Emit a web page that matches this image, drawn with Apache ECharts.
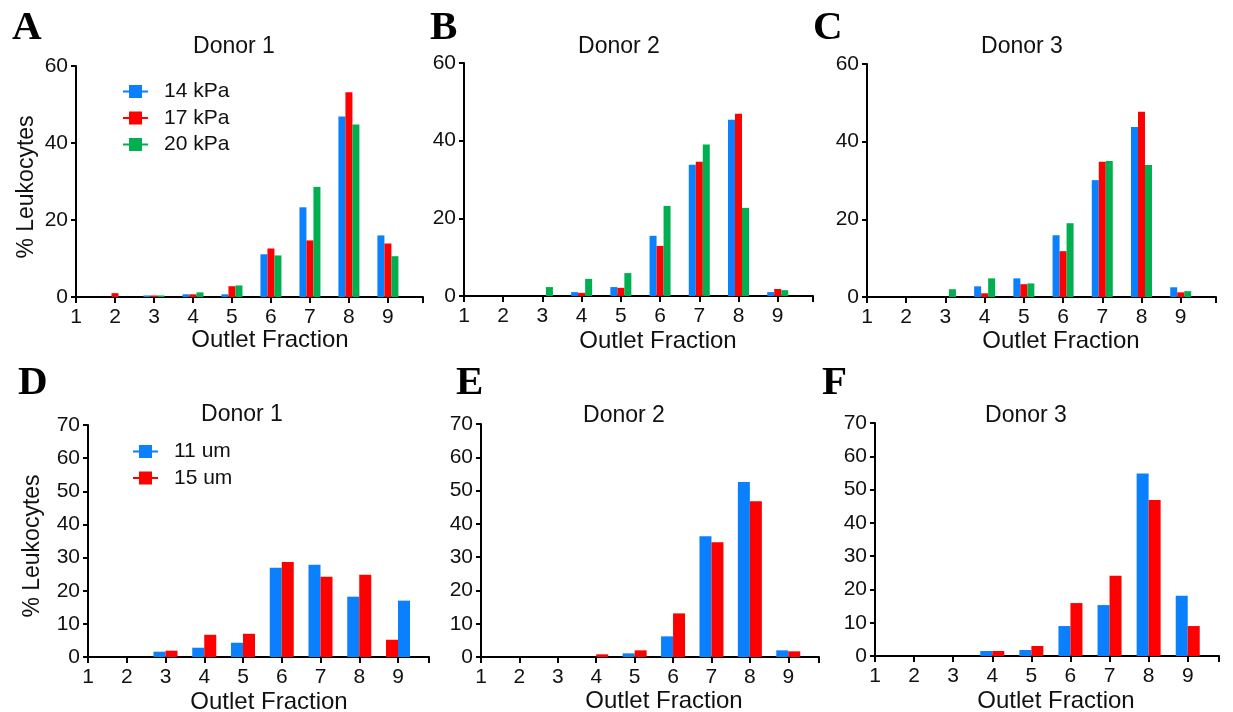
<!DOCTYPE html>
<html>
<head>
<meta charset="utf-8">
<script src="https://cdn.jsdelivr.net/npm/echarts@6/dist/echarts.min.js"></script>
<style>
  html, body { margin: 0; padding: 0; background: #fff; }
  #chart { width: 1233px; height: 712px; }
</style>
</head>
<body>
<div id="chart"></div>
<script>
// outlet fractions (x axis)
var fractions = [1, 2, 3, 4, 5, 6, 7, 8, 9];
var kpaNames = ['14 kPa', '17 kPa', '20 kPa'];
var umNames = ['11 um', '15 um'];
var yTicksTop = [0, 20, 40, 60];
var yTicksBottom = [0, 10, 20, 30, 40, 50, 60, 70];

// % leukocytes
var d1Kpa14 = [0, 0, 0.4, 0.7, 0.7, 11.1, 23.3, 46.9, 16.0];
var d1Kpa17 = [0, 1.0, 0.4, 0.7, 2.8, 12.6, 14.7, 53.2, 13.9];
var d1Kpa20 = [0, 0, 0.4, 1.2, 3.0, 10.8, 28.6, 44.8, 10.6];

var d2Kpa14 = [0, 0, 0, 1.0, 2.3, 15.5, 33.8, 45.4, 1.0];
var d2Kpa17 = [0, 0, 0, 0.8, 2.1, 12.9, 34.6, 46.9, 1.8];
var d2Kpa20 = [0, 0, 2.3, 4.4, 5.9, 23.2, 39.0, 22.7, 1.5];

var d3Kpa14 = [0, 0, 0, 2.75, 4.8, 15.9, 30.1, 43.8, 2.5];
var d3Kpa17 = [0, 0, 0, 0.95, 3.3, 11.8, 34.8, 47.7, 1.2];
var d3Kpa20 = [0, 0, 2.0, 4.8, 3.5, 19.0, 35.0, 34.0, 1.5];

var d1Um11 = [0, 0, 1.6, 2.8, 4.3, 26.9, 27.8, 18.2, 17.0];
var d1Um15 = [0, 0, 1.9, 6.7, 7.0, 28.7, 24.2, 24.8, 5.2];

var d2Um11 = [0, 0, 0, 0, 1.1, 6.2, 36.3, 52.6, 2.0];
var d2Um15 = [0, 0, 0, 0.8, 2.0, 13.1, 34.5, 46.8, 1.7];

var d3Um11 = [0, 0, 0, 1.5, 1.8, 9.0, 15.3, 54.8, 18.1];
var d3Um15 = [0, 0, 0, 1.5, 3.0, 15.9, 24.1, 46.9, 9.0];

var colors = ['#0A80FF', '#FF0000', '#00AF50'];
var font = '"Liberation Sans", Arial, sans-serif';
var txt = '#111';

var panels = [
  {letter: 'A', lx: 12, ly: 30, title: 'Donor 1', tx: 234, ty: 47,
   grid: {left: 76, top: 66, width: 347, height: 231}, xMax: 9.9, yTicks: yTicksTop,
   names: kpaNames, values: [d1Kpa14, d1Kpa17, d1Kpa20], barWidth: 7,
   xnx: 270, xny: 340, ynx: 27, yny: 187},
  {letter: 'B', lx: 430, ly: 30, title: 'Donor 2', tx: 619, ty: 47,
   grid: {left: 464, top: 63, width: 349, height: 233}, xMax: 9.9, yTicks: yTicksTop,
   names: kpaNames, values: [d2Kpa14, d2Kpa17, d2Kpa20], barWidth: 7,
   xnx: 658, xny: 341},
  {letter: 'C', lx: 813, ly: 30, title: 'Donor 3', tx: 1022, ty: 47,
   grid: {left: 867, top: 64, width: 349, height: 233}, xMax: 9.9, yTicks: yTicksTop,
   names: kpaNames, values: [d3Kpa14, d3Kpa17, d3Kpa20], barWidth: 7,
   xnx: 1061, xny: 341},
  {letter: 'D', lx: 18, ly: 385, title: 'Donor 1', tx: 242, ty: 415,
   grid: {left: 88, top: 425, width: 341, height: 232}, xMax: 9.8, yTicks: yTicksBottom,
   names: umNames, values: [d1Um11, d1Um15], barWidth: 12, swapLast: true,
   xnx: 269, xny: 702, ynx: 33, yny: 546},
  {letter: 'E', lx: 456, ly: 385, title: 'Donor 2', tx: 624, ty: 416,
   grid: {left: 481, top: 424, width: 338, height: 233}, xMax: 9.8, yTicks: yTicksBottom,
   names: umNames, values: [d2Um11, d2Um15], barWidth: 12,
   xnx: 664, xny: 701},
  {letter: 'F', lx: 822, ly: 385, title: 'Donor 3', tx: 1026, ty: 416,
   grid: {left: 875, top: 423, width: 344, height: 233}, xMax: 9.8, yTicks: yTicksBottom,
   names: umNames, values: [d3Um11, d3Um15], barWidth: 12,
   xnx: 1056, xny: 701}
];

function makeXAxis(gi, max, hidden) {
  return {
    type: 'value', gridIndex: gi, min: 1, max: max, interval: 1, show: !hidden,
    axisLine: {show: true, onZero: false, lineStyle: {color: '#000', width: 2}},
    axisTick: {show: true, length: 6, lineStyle: {color: '#000', width: 2}},
    axisLabel: {fontSize: 21, fontFamily: font, color: txt, margin: 10,
      showMinLabel: true, showMaxLabel: true,
      formatter: function (v) { return Number.isInteger(v) ? String(v) : ''; }},
    splitLine: {show: false}
  };
}

var grids = [], xAxes = [], yAxes = [], series = [], graphic = [];
var extraX = [];

panels.forEach(function (p, gi) {
  grids.push({left: p.grid.left, top: p.grid.top, width: p.grid.width, height: p.grid.height,
    containLabel: false, outerBoundsMode: 'none'});
  xAxes.push(makeXAxis(gi, p.xMax, false));
  var yt = p.yTicks;
  yAxes.push({
    type: 'value', gridIndex: gi, min: yt[0], max: yt[yt.length - 1], interval: yt[1] - yt[0],
    axisLine: {show: true, lineStyle: {color: '#000', width: 2}},
    axisTick: {show: true, length: 5, lineStyle: {color: '#000', width: 2}},
    axisLabel: {fontSize: 21, fontFamily: font, color: txt, margin: 8},
    splitLine: {show: false}
  });

  var last = fractions.length - 1;
  p.values.forEach(function (vals, si) {
    var pts = [];
    fractions.forEach(function (f, i) {
      if (p.swapLast && i === last) return;
      pts.push([f, vals[i]]);
    });
    series.push({
      type: 'bar', name: p.names[si], xAxisIndex: gi, yAxisIndex: gi,
      barWidth: p.barWidth, barGap: '0%', data: pts,
      itemStyle: {color: colors[si]}, emphasis: {disabled: true}
    });
  });
  if (p.swapLast) {
    // last group drawn in reversed order on an overlaid hidden axis
    extraX.push({gi: gi, p: p, last: last});
  }

  graphic.push({type: 'text', left: p.lx, top: p.ly - 22,
    style: {text: p.letter, font: 'bold 41px "Liberation Serif", "Times New Roman", serif', fill: '#000'}});
  graphic.push({type: 'text', x: p.tx, y: p.ty,
    style: {text: p.title, font: '23px ' + font, fill: txt, align: 'center', verticalAlign: 'middle'}});
  graphic.push({type: 'text', x: p.xnx, y: p.xny,
    style: {text: 'Outlet Fraction', font: '24px ' + font, fill: txt, align: 'center', verticalAlign: 'middle'}});
  if (p.ynx) {
    graphic.push({type: 'text', x: p.ynx, y: p.yny, rotation: Math.PI / 2,
      style: {text: '% Leukocytes', font: '23px ' + font, fill: txt, align: 'center', verticalAlign: 'middle'}});
  }
});

extraX.forEach(function (e) {
  var xi = xAxes.length;
  xAxes.push(makeXAxis(e.gi, e.p.xMax, true));
  for (var si = e.p.values.length - 1; si >= 0; si--) {
    series.push({
      type: 'bar', name: e.p.names[si], xAxisIndex: xi, yAxisIndex: e.gi,
      barWidth: e.p.barWidth, barGap: '0%',
      data: [[fractions[e.last], e.p.values[si][e.last]]],
      itemStyle: {color: colors[si]}, emphasis: {disabled: true}
    });
  }
});

var legendIcon = 'path://M0,5.6 L25,5.6 L25,7.4 L0,7.4 Z M6,0 L19,0 L19,13 L6,13 Z';

var option = {
  animation: false,
  backgroundColor: '#fff',
  grid: grids,
  xAxis: xAxes,
  yAxis: yAxes,
  legend: [
    {data: kpaNames, orient: 'vertical', left: 118, top: 76, itemWidth: 25, itemHeight: 13,
     itemGap: 5.5, icon: legendIcon, selectedMode: false,
     textStyle: {fontSize: 21, fontFamily: font, color: txt, padding: [0, 0, 0, 11]}},
    {data: umNames, orient: 'vertical', left: 128, top: 436, itemWidth: 25, itemHeight: 13,
     itemGap: 5.5, icon: legendIcon, selectedMode: false,
     textStyle: {fontSize: 21, fontFamily: font, color: txt, padding: [0, 0, 0, 11]}}
  ],
  graphic: graphic,
  series: series
};

var chart = echarts.init(document.getElementById('chart'), null, {renderer: 'canvas'});
chart.setOption(option);
</script>
</body>
</html>
